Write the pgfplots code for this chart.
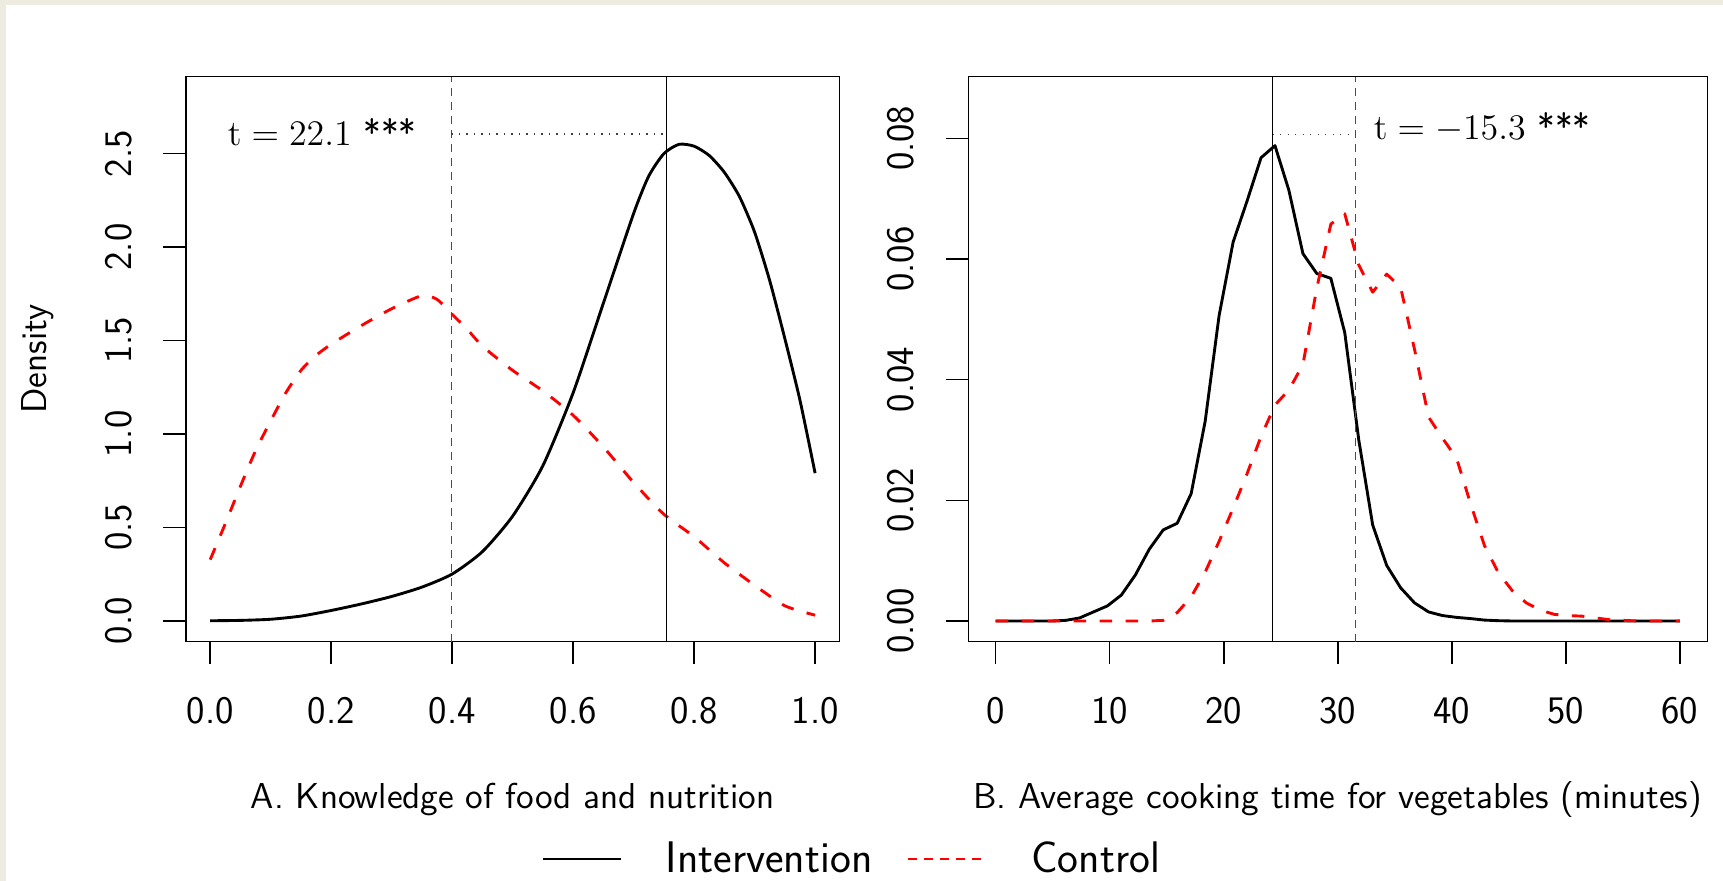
\documentclass[border=0pt]{standalone}
\usepackage{pgfplots}
\pgfplotsset{compat=1.18}
\definecolor{framebg}{RGB}{238,235,225}
\begin{document}
\sffamily
\begin{tikzpicture}
\fill[framebg] (0pt,0pt) rectangle (689.2pt,352.4pt);
\fill[white] (2.4pt,0pt) rectangle (689.2pt,350.4pt);
\pgfplotsset{
  rbase/.style={
    scale only axis, height=226pt, anchor=south west,
    axis line style={line width=0.6pt},
    every tick/.style={black, line width=0.6pt},
    tick align=outside, major tick length=9pt,
    xtick pos=left, ytick pos=left,
    /pgf/number format/assume math mode=true,
    tick label style={font=\fontsize{15.6}{18}\selectfont\sffamily},
    yticklabel style={xshift=-9pt, rotate=90, anchor=south},
    xticklabel style={anchor=north, yshift=-9.7pt},
    label style={font=\fontsize{14.4}{17}\selectfont\sffamily},
    xlabel style={at={(axis description cs:0.5,-0.2961)}, anchor=base},
    scaled y ticks=false,
  },
  curve/.style={line width=1.15pt, line join=round},
  ctrl/.style={curve, red, dash pattern=on 5pt off 5.4pt},
}
% ---------------- Panel A ----------------
\begin{axis}[rbase,
  at={(74.4pt,95.72pt)}, width=261.32pt,
  xmin=-0.04, xmax=1.04, ymin=-0.112, ymax=2.912,
  xtick={0,0.2,0.4,0.6,0.8,1}, ytick={0,0.5,1,1.5,2,2.5},
  x tick label style={/pgf/number format/.cd,fixed,fixed zerofill,precision=1},
  y tick label style={/pgf/number format/.cd,fixed,fixed zerofill,precision=1},
  xlabel={A. Knowledge of food and nutrition},
  ylabel={Density},
  ylabel style={at={(axis description cs:-0.2128,0.5)}, anchor=base},
  legend style={draw=none, fill=none, inner sep=0pt,
    at={(axis description cs:0.544,-0.3846)}, anchor=west,
    font=\fontsize{17.7}{20}\selectfont\sffamily,
    /tikz/every odd column/.append style={column sep=15.5pt},
    /tikz/every even column/.append style={column sep=12pt}},
  legend columns=2,
  legend image code/.code={\draw[#1] (0pt,0pt) -- (31.5pt,0pt);},
]
\addplot[curve, black, smooth, tension=0.4, forget plot] coordinates {
(0.00,0.000) (0.05,0.002) (0.10,0.008) (0.15,0.025) (0.20,0.055) (0.25,0.09)
(0.30,0.13) (0.35,0.18) (0.40,0.25) (0.45,0.37) (0.50,0.56) (0.55,0.83)
(0.60,1.22) (0.65,1.70) (0.70,2.18) (0.725,2.38) (0.75,2.50) (0.775,2.55)
(0.80,2.54) (0.825,2.49) (0.85,2.40) (0.875,2.27) (0.90,2.08) (0.925,1.82)
(0.95,1.51) (0.975,1.18) (1.00,0.79)};
\addplot[ctrl, smooth, tension=0.4, forget plot] coordinates {
(0.00,0.327) (0.025,0.52) (0.05,0.72) (0.075,0.91) (0.10,1.07) (0.125,1.22)
(0.15,1.34) (0.175,1.42) (0.20,1.48) (0.25,1.58) (0.30,1.67) (0.35,1.74)
(0.375,1.72) (0.40,1.64) (0.425,1.56) (0.45,1.47) (0.50,1.34) (0.55,1.23)
(0.60,1.10) (0.65,0.93) (0.70,0.74) (0.75,0.57) (0.80,0.45) (0.85,0.31)
(0.90,0.19) (0.95,0.08) (1.00,0.03)};
\addplot[red, line width=0.55pt, dash pattern=on 3.2pt off 2.4pt, forget plot] coordinates {(0.3985,-0.112) (0.3985,2.912)};
\addplot[black, line width=0.55pt, forget plot] coordinates {(0.754,-0.112) (0.754,2.912)};
\addplot[black!75, line width=0.5pt, dash pattern=on 0.5pt off 2.5pt, forget plot] coordinates {(0.3985,2.605) (0.754,2.605)};
\node[anchor=base west, inner sep=0pt, font=\fontsize{14.4}{17}\selectfont\sffamily] at (axis cs:0.0286,2.544) {$\mathrm{t} = 22.1$ ***};
\addlegendimage{black, line width=0.55pt}
\addlegendentry{Intervention}
\addlegendimage{red, line width=0.55pt, dash pattern=on 3.6pt off 2.8pt}
\addlegendentry{Control}
\end{axis}
% ---------------- Panel B ----------------
\begin{axis}[rbase,
  at={(387.32pt,95.72pt)}, width=295.6pt,
  xmin=-2.4, xmax=62.4, ymin=-0.00343, ymax=0.09023,
  xtick={0,10,20,30,40,50,60}, ytick={0,0.02,0.04,0.06,0.08},
  y tick label style={/pgf/number format/.cd,fixed,fixed zerofill,precision=2},
  xlabel={B. Average cooking time for vegetables (minutes)},
]
\addplot[curve, black] coordinates {
(0,0) (1.224,0) (2.449,0) (3.673,0) (4.898,0) (6.122,0.0001) (7.347,0.0005)
(8.571,0.0015) (9.796,0.0025) (11.02,0.0043) (12.24,0.0076) (13.47,0.0119)
(14.69,0.0151) (15.92,0.0162) (17.14,0.0211) (18.37,0.0331) (19.59,0.0506)
(20.82,0.0628) (22.04,0.0696) (23.27,0.0768) (24.49,0.0788) (25.71,0.0714)
(26.94,0.0609) (28.16,0.0576) (29.39,0.0568) (30.61,0.0478) (31.84,0.0300)
(33.06,0.0159) (34.29,0.0092) (35.51,0.0055) (36.73,0.0030) (37.96,0.0015)
(39.18,0.0009) (40.41,0.0006) (41.63,0.0004) (42.86,0.00015) (44.08,0.00005)
(45.31,0) (46.53,0) (47.76,0) (48.98,0) (50.20,0) (51.43,0) (52.65,0)
(53.88,0) (55.10,0) (56.33,0) (57.55,0) (58.78,0) (60,0)};
\addplot[ctrl] coordinates {
(0,0) (1.224,0) (2.449,0) (3.673,0) (4.898,0) (6.122,0) (7.347,0)
(8.571,0) (9.796,0) (11.02,0) (12.24,0) (13.47,0)
(14.69,0.0001) (15.92,0.0014) (17.14,0.0040) (18.37,0.0081) (19.59,0.0132)
(20.82,0.0187) (22.04,0.0244) (23.27,0.0306) (24.49,0.0358) (25.71,0.0383)
(26.94,0.0425) (28.16,0.0552) (29.39,0.0658) (30.61,0.0675) (31.84,0.0590)
(33.06,0.0545) (34.29,0.0575) (35.51,0.0553) (36.73,0.0450) (37.96,0.0338)
(39.18,0.0303) (40.41,0.0270) (41.63,0.0195) (42.86,0.0125) (44.08,0.0080)
(45.31,0.0050) (46.53,0.0030) (47.76,0.0018) (48.98,0.0011) (50.20,0.0009)
(51.43,0.0008) (52.65,0.0005) (53.88,0.0002) (55.10,0.0001) (56.33,0)
(57.55,0) (58.78,0) (60,0)};
\addplot[black, line width=0.55pt] coordinates {(24.29,-0.00343) (24.29,0.09023)};
\addplot[red, line width=0.55pt, dash pattern=on 3.2pt off 2.4pt] coordinates {(31.56,-0.00343) (31.56,0.09023)};
\addplot[black!75, line width=0.5pt, dash pattern=on 0.5pt off 2.5pt] coordinates {(24.29,0.0806) (31.56,0.0806)};
\node[anchor=base west, inner sep=0pt, font=\fontsize{14.4}{17}\selectfont\sffamily] at (axis cs:33.12,0.07974) {$\mathrm{t} = -15.3$ ***};
\end{axis}
\pgfresetboundingbox
\useasboundingbox (0pt,0pt) rectangle (689.2pt,352.4pt);
\end{tikzpicture}
\end{document}
